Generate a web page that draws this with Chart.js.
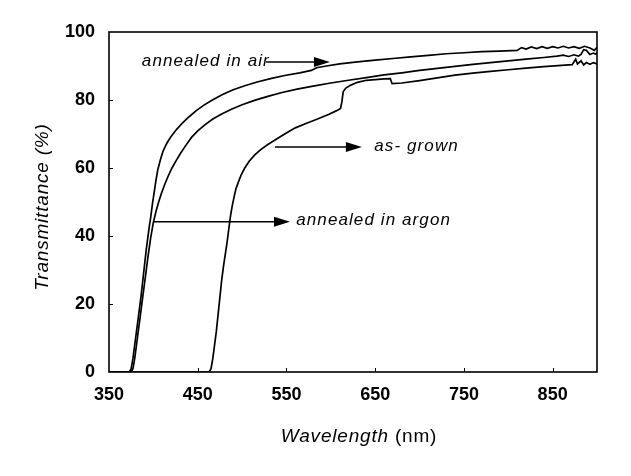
<!DOCTYPE html>
<html>
<head>
<meta charset="utf-8">
<script src="https://cdn.jsdelivr.net/npm/chart.js@4.4.1/dist/chart.umd.min.js"></script>
<style>
html,body{margin:0;padding:0;background:#fff;}
canvas{display:block;}
</style>
</head>
<body>
<canvas id="c" width="631" height="476"></canvas>
<script>
// ---- data (wavelength nm, transmittance %) ----
const xTicks = [350, 450, 550, 650, 750, 850];
const yTicks = [0, 20, 40, 60, 80, 100];

const annealedAir = [
  [350,0],[373,0],[375,1],[377,4],[380,10],[383,16],[386,22],[389,29],[392,36],[395,42],
  [397,45.5],[399,49.5],[401,53],[403,56.5],[405,59.5],[408,62.5],[411,65],[415,67.2],
  [420,69.3],[426,71.3],[433,73.3],[440,75],[448,76.8],[457,78.5],[467,80.1],[478,81.6],
  [490,83],[503,84.2],[517,85.3],[532,86.3],[548,87.2],[565,88],[578,88.7],[584,89.5],
  [595,90],[610,90.6],[630,91.2],[650,91.7],[670,92.2],[690,92.7],[710,93.1],[730,93.6],
  [750,93.9],[770,94.2],[790,94.4],[810,94.6],[815,95.4],[820,95.0],[826,95.6],[832,95.1],
  [838,95.7],[844,95.2],[850,95.7],[856,95.3],[862,95.8],[868,95.3],[874,95.7],[880,95.2],
  [886,95.8],[892,95.3],[897,94.6],[900,95.5]
];

const annealedArgon = [
  [350,0],[375,0],[377,1],[379,4],[382,10],[385,16],[388,22],[391,28],[394,34],[397,39.5],
  [400,44],[403,47.3],[406,50],[409,52.5],[413,55.3],[417,57.8],[421,60],[426,62.3],
  [431,64.5],[437,66.8],[443,69],[450,70.9],[458,72.7],[467,74.4],[477,75.9],[488,77.3],
  [500,78.6],[514,79.9],[528,81],[545,82.2],[562,83.2],[580,84.1],[600,85],[620,85.8],
  [640,86.6],[660,87.4],[680,88],[700,88.7],[720,89.3],[740,89.9],[760,90.5],[780,91],
  [800,91.5],[820,92],[840,92.5],[855,92.9],[862,93.2],[868,92.8],[874,93.3],[879,92.9],
  [882,93.4],[885,94.8],[888,94.6],[892,93.4],[896,93.8],[898,93.5],[900,93.8]
];

const asGrown = [
  [350,0],[463,0],[465,1],[467,4],[469,8],[471,12],[473,17],[475,22],[477,27],[479,31],
  [481,34.5],[483,38],[485,42],[487,46],[489,49],[491,51.5],[493,53.8],[496,56],[499,58],
  [503,60],[508,62],[514,63.8],[521,65.4],[529,66.9],[538,68.4],[548,70],[560,71.8],
  [572,73.1],[585,74.4],[598,75.8],[606,76.8],[611,77.5],[612.5,79.5],[614,82.5],[617,83.5],
  [622,84.3],[630,85.2],[640,85.8],[660,86.2],[667,86.3],[669,84.8],[680,85],[700,85.7],
  [720,86.5],[740,87.3],[760,87.9],[780,88.4],[800,88.9],[820,89.4],[840,89.8],[860,90.2],
  [872,90.4],[876,92],[878,90.6],[882,91.5],[885,90.3],[888,91],[892,90.5],[896,91],[900,90.6]
];

// annotation labels: text, arrow start/end wavelength, level (%)
const labels = [
  {text: 'annealed in air',   textAt: 387, from: 527, to: 599, level: 91.2},
  {text: 'as- grown',         textAt: 649, from: 537, to: 635, level: 66.2},
  {text: 'annealed in argon', textAt: 561, from: 400, to: 554, level: 44.2}
];

function toXY(arr){ return arr.map(p => ({x:p[0], y:p[1]})); }

const decor = {
  id: 'decor',
  afterDraw(chart){
    const ctx = chart.ctx, a = chart.chartArea;
    const xs = chart.scales.x, ys = chart.scales.y;
    ctx.save();
    // frame
    ctx.strokeStyle = '#000';
    ctx.lineWidth = 1.6;
    ctx.strokeRect(a.left, a.top, a.right - a.left, a.bottom - a.top);
    // inward tick marks
    ctx.lineWidth = 1;
    ctx.beginPath();
    yTicks.forEach(v => {
      if (v === 0 || v === 100) return;
      const py = Math.round(ys.getPixelForValue(v)) + 0.5;
      ctx.moveTo(a.left, py); ctx.lineTo(a.left + 4, py);
    });
    xTicks.forEach(v => {
      if (v === 350) return;
      const px = Math.round(xs.getPixelForValue(v)) + 0.5;
      ctx.moveTo(px, a.bottom); ctx.lineTo(px, a.bottom - 4);
    });
    ctx.stroke();

    // axis titles
    ctx.fillStyle = '#000';
    ctx.textBaseline = 'middle';
    try { ctx.letterSpacing = '0.8px'; } catch(e) {}
    // y title
    ctx.save();
    ctx.translate(43, (a.top + a.bottom) / 2 + 5);
    ctx.rotate(-Math.PI / 2);
    ctx.font = 'italic 19px "Liberation Sans", Arial, sans-serif';
    ctx.textAlign = 'center';
    ctx.fillText('Transmittance (%)', 0, 0);
    ctx.restore();
    // x title (mixed style)
    const t1 = 'Wavelength', t2 = ' (nm)';
    ctx.font = 'italic 19px "Liberation Sans", Arial, sans-serif';
    const w1 = ctx.measureText(t1).width;
    ctx.font = '19px "Liberation Sans", Arial, sans-serif';
    const w2 = ctx.measureText(t2).width;
    const cx = (a.left + a.right) / 2 + 6;
    let sx = cx - (w1 + w2) / 2;
    ctx.textAlign = 'left';
    ctx.font = 'italic 19px "Liberation Sans", Arial, sans-serif';
    ctx.fillText(t1, sx, 437);
    ctx.font = '19px "Liberation Sans", Arial, sans-serif';
    ctx.fillText(t2, sx + w1, 437);

    // annotations
    try { ctx.letterSpacing = '1.1px'; } catch(e) {}
    ctx.font = 'italic 17px "Liberation Sans", Arial, sans-serif';
    labels.forEach(l => {
      const y = ys.getPixelForValue(l.level);
      const x0 = xs.getPixelForValue(l.from);
      const x1 = xs.getPixelForValue(l.to);
      const tx = xs.getPixelForValue(l.textAt);
      ctx.lineWidth = 1.5;
      ctx.beginPath();
      ctx.moveTo(x0, y); ctx.lineTo(x1 - 12, y);
      ctx.stroke();
      ctx.beginPath();
      ctx.moveTo(x1, y);
      ctx.lineTo(x1 - 16, y - 5);
      ctx.lineTo(x1 - 16, y + 5);
      ctx.closePath();
      ctx.fill();
      ctx.textAlign = 'left';
      ctx.fillText(l.text, tx, y - 1);
    });
    ctx.restore();
  }
};

const lineStyle = {
  showLine: true, pointRadius: 0, borderColor: '#000', borderWidth: 1.7,
  backgroundColor: '#000', tension: 0, fill: false
};

new Chart(document.getElementById('c'), {
  type: 'scatter',
  data: {
    datasets: [
      Object.assign({label: 'annealed in air', data: toXY(annealedAir)}, lineStyle),
      Object.assign({label: 'annealed in argon', data: toXY(annealedArgon)}, lineStyle),
      Object.assign({label: 'as-grown', data: toXY(asGrown)}, lineStyle)
    ]
  },
  options: {
    responsive: false,
    devicePixelRatio: 1,
    animation: false,
    layout: { autoPadding: false, padding: {top: 32, right: 34, left: 0, bottom: 0} },
    plugins: { legend: {display: false}, tooltip: {enabled: false} },
    scales: {
      x: {
        type: 'linear', min: 350, max: 900,
        afterBuildTicks(s){ s.ticks = xTicks.map(v => ({value: v})); },
        afterFit(s){ s.height = 104; },
        grid: {display: false, drawTicks: false},
        border: {display: false},
        ticks: {color: '#000', padding: 12, maxRotation: 0, autoSkip: false,
                font: {family: '"Liberation Sans", Arial, sans-serif', size: 18, weight: 'bold'}}
      },
      y: {
        type: 'linear', min: 0, max: 100,
        afterBuildTicks(s){ s.ticks = yTicks.map(v => ({value: v})); },
        afterFit(s){ s.width = 109; },
        grid: {display: false, drawTicks: false},
        border: {display: false},
        ticks: {color: '#000', padding: 14,
                font: {family: '"Liberation Sans", Arial, sans-serif', size: 18, weight: 'bold'}}
      }
    }
  },
  plugins: [decor]
});
</script>
</body>
</html>
